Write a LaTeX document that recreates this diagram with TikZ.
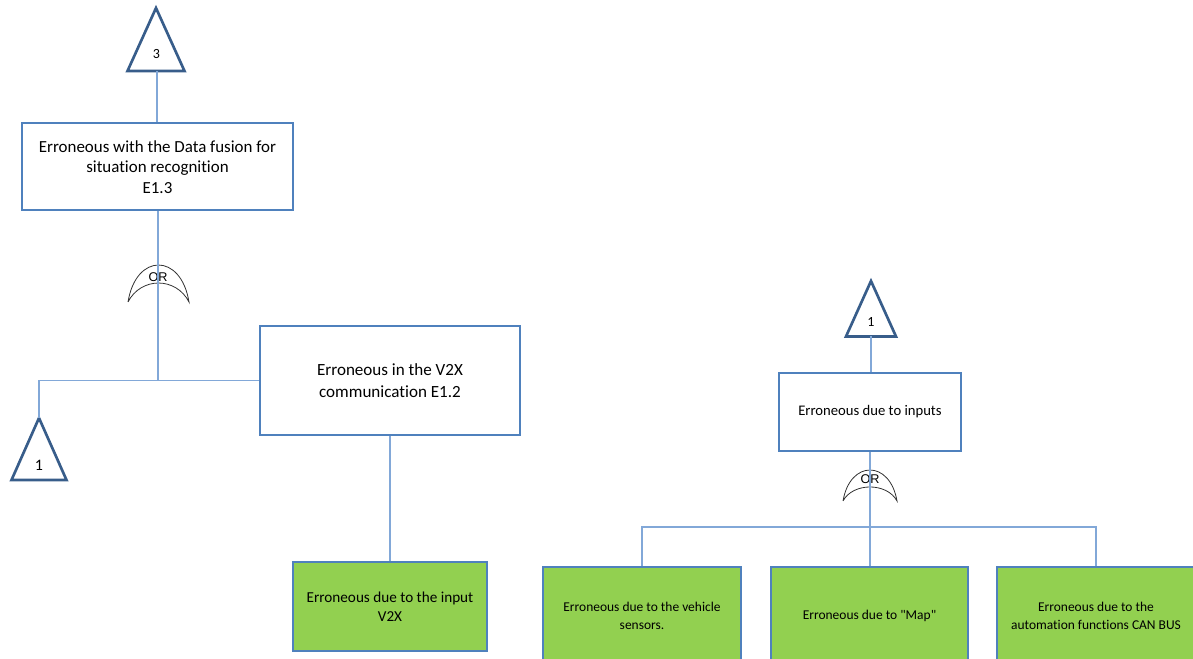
\documentclass[tikz,border=0pt]{standalone}
\usepackage{fontspec}
\setmainfont{Carlito}[Ligatures={NoCommon,TeXOff}]
\newfontfamily\gatefont{Liberation Sans}
\usepackage{xcolor}
\usepackage{tikz}
\usetikzlibrary{positioning,calc}
\definecolor{boxblue}{RGB}{79,129,189}
\definecolor{trinavy}{RGB}{56,93,138}
\definecolor{linkblue}{RGB}{130,168,216}
\definecolor{eventgreen}{RGB}{146,208,80}
\definecolor{gategray}{RGB}{50,50,50}

\begin{document}
\begin{tikzpicture}[x=0.75pt,y=-0.75pt,
    event/.style={draw=boxblue,line width=1.5pt,fill=white,align=center,inner sep=2pt,font=\fontsize{12.7}{15.4}\selectfont},
    basic/.style={event,fill=eventgreen,font=\fontsize{10.1}{13.5}\selectfont},
    link/.style={draw=linkblue,line width=0.85pt},
    transfer/.style={draw=trinavy,line width=2pt,fill=white},
    gate/.style={draw=gategray,line width=0.6pt},
    gatelbl/.style={font=\gatefont\fontsize{9.5}{9.5}\selectfont,inner sep=0pt}]
    \useasboundingbox (0,0) rectangle (1193,659);
    \clip (0,0) rectangle (1193,659);

    % Left branch: data fusion event
    \draw[transfer] (156,8) -- (184.5,71) -- (127.5,71) -- cycle;
    \coordinate (tri3) at (157,71);
    \node[font=\fontsize{10.5}{10.5}\selectfont] (tri3lbl) at (156.5,54) {3};

    \node[event,minimum width=203.25pt,minimum height=65.25pt] (fusion) at (157.5,167)
        {Erroneous with the Data fusion for\\situation recognition\\E1.3};
    \draw[link] (tri3) -- (tri3 |- fusion.north);

    % OR gate under E1.3
    \draw[gate] (128,302) .. controls (136,252.7) and (181,252.7) .. (189,302)
        .. controls (176,276.7) and (141,276.7) .. (128,302);
    \node[gatelbl] (or1) at (158,277.5) {OR};
    \coordinate (j1) at (158,380);
    \draw[link] (fusion.south -| j1) -- (j1);

    \node[event,minimum width=195pt,minimum height=81pt,font=\fontsize{12.8}{16.5}\selectfont] (v2x) at (390,380.5)
        {Erroneous in the V2X\\communication E1.2};

    \draw[transfer] (39,418) -- (66.5,480) -- (11.5,480) -- cycle;
    \coordinate (tri1a) at (39,418);
    \node[font=\fontsize{12}{12}\selectfont] (tri1albl) at (39,465) {1};
    \draw[link] (v2x.west) -| (tri1a);

    \node[basic,minimum width=145.5pt,minimum height=66.75pt,font=\fontsize{11.4}{14.3}\selectfont] (inputv2x) at (390,606.5)
        {Erroneous due to the input\\V2X};
    \draw[link] (v2x.south) -- (inputv2x.north);

    % Right branch: inputs
    \draw[transfer] (871,281) -- (896,336.5) -- (846,336.5) -- cycle;
    \coordinate (tri1b) at (871,336.5);
    \node[font=\fontsize{10.5}{10.5}\selectfont] (tri1blbl) at (871,321.5) {1};

    \node[event,minimum width=136.5pt,minimum height=58.5pt,font=\fontsize{11}{13}\selectfont] (inputs) at (870,412)
        {Erroneous due to inputs};
    \draw[link] (tri1b) -- (tri1b |- inputs.north);

    % OR gate under inputs
    \draw[gate] (843,501) .. controls (850,459.7) and (890,459.7) .. (897,501)
        .. controls (887,482.3) and (853,482.3) .. (843,501);
    \node[gatelbl] (or2) at (870,479.5) {OR};
    \coordinate (j2) at (870,527);
    \draw[link] (inputs.south) -- (j2);

    \node[basic,minimum width=148.5pt,minimum height=72.75pt] (sensors) at (642,615.5)
        {Erroneous due to the vehicle\\sensors.};
    \node[basic,minimum width=147.75pt,minimum height=72.75pt] (map) at (869.5,615.5)
        {Erroneous due to "Map"};
    \node[basic,minimum width=148.5pt,minimum height=72.75pt] (canbus) at (1096,615.5)
        {Erroneous due to the\\automation functions CAN BUS};
    \draw[link] (sensors.north) |- (j2) -| (canbus.north);
    \draw[link] (j2) -- (j2 |- map.north);
\end{tikzpicture}
\end{document}
